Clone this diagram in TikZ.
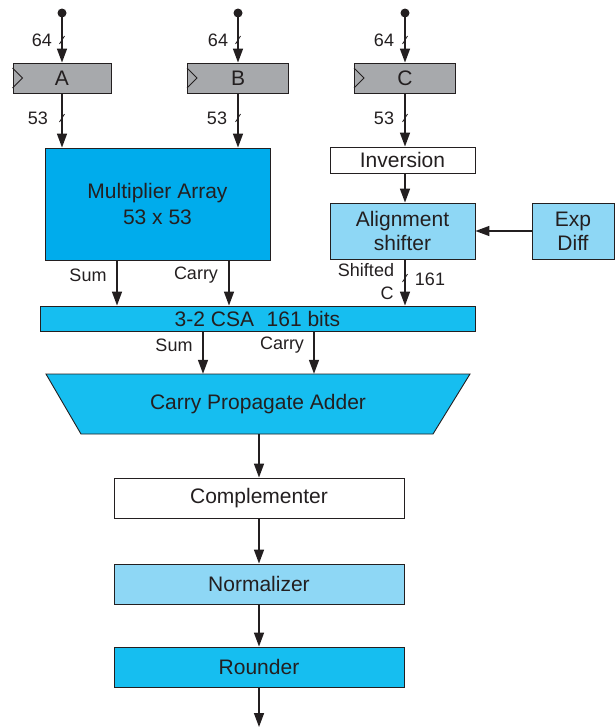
\documentclass[tikz,border=0pt]{standalone}
\usepackage{fontspec}
\setmainfont{Liberation Sans}
\usetikzlibrary{arrows.meta,positioning}
\definecolor{regGray}{RGB}{167,169,172}
\definecolor{multBlue}{RGB}{0,172,236}
\definecolor{csaBlue}{RGB}{22,190,240}
\definecolor{lightBlue}{RGB}{142,215,245}
\definecolor{inkC}{RGB}{35,31,32}
\begin{document}
\begin{tikzpicture}[x=1pt,y=-1pt,
    box/.style={draw=inkC, line width=0.9pt, inner sep=0pt, text=inkC, font=\fontsize{21}{24}\selectfont},
    arr/.style={draw=inkC, line width=1.5pt, -{Triangle[length=14pt,width=10pt]}},
    lbl/.style={inner sep=0pt, text=inkC, font=\fontsize{18}{20}\selectfont},
    tick/.style={draw=inkC, line width=0.8pt}]
    \useasboundingbox (0,0) rectangle (615,728);

    %registers A, B, C
    \node[box, fill=regGray, minimum width=98pt, minimum height=30pt] (regA) at (62,78) {A};
    \node[box, fill=regGray, minimum width=101pt, minimum height=30pt] (regB) at (238,78) {B};
    \node[box, fill=regGray, minimum width=101pt, minimum height=30pt] (regC) at (405,78) {C};
    \draw[inkC, line width=0.9pt] ([yshift=10pt]regA.west) -- ++(10,10) -- ++(-10,10);
    \draw[inkC, line width=0.9pt] ([yshift=10pt]regB.west) -- ++(10,10) -- ++(-10,10);
    \draw[inkC, line width=0.9pt] ([yshift=10pt]regC.west) -- ++(10,10) -- ++(-10,10);

    %inputs, 64 bits
    \coordinate (inA) at (62,13);
    \coordinate (inB) at (238,13);
    \coordinate (inC) at (405,13);
    \fill[inkC] (inA) circle (4.5pt);
    \fill[inkC] (inB) circle (4.5pt);
    \fill[inkC] (inC) circle (4.5pt);

    %datapath boxes
    \node[box, fill=multBlue, minimum width=225pt, minimum height=112pt, align=center] (mult) at (157.5,204) {Multiplier Array\\[2pt]53 x 53};
    \node[box, fill=white, minimum width=145pt, minimum height=26pt] (inv) at (402.5,160) {Inversion};
    \node[box, fill=lightBlue, minimum width=145pt, minimum height=56pt, align=center] (align) at (402.5,231) {Alignment\\shifter};
    \node[box, fill=lightBlue, minimum width=82pt, minimum height=56pt, align=center] (exp) at (573,231) {Exp\\Diff};
    \node[box, fill=csaBlue, minimum width=435pt, minimum height=25pt] (csa) at (257.5,318.5) {3-2 CSA\hspace{0.6em}161 bits};

    %carry propagate adder
    \filldraw[fill=csaBlue, draw=inkC, line width=0.9pt] (46,374) -- (470,374) -- (433,434) -- (81,434) -- cycle;
    \node[inner sep=0pt, minimum width=352pt, minimum height=60pt, text=inkC, font=\fontsize{21}{24}\selectfont] (cpa) at (258,404) {Carry Propagate Adder};

    \node[box, fill=white, minimum width=290pt, minimum height=40pt] (comp) at (259,498) {Complementer};
    \node[box, fill=lightBlue, minimum width=290pt, minimum height=40pt] (norm) at (259,584) {Normalizer};
    \node[box, fill=csaBlue, minimum width=290pt, minimum height=40pt] (round) at (259,667) {Rounder};
    \coordinate (out) at (259,727);

    %labels
    \node[lbl] (wA1) at (42,40) {64};
    \node[lbl] (wB1) at (218,40) {64};
    \node[lbl] (wC1) at (384,40) {64};
    \node[lbl] (wA2) at (38,118) {53};
    \node[lbl] (wB2) at (217,118) {53};
    \node[lbl] (wC2) at (384,118) {53};
    \node[lbl] (sum1) at (88,275) {Sum};
    \node[lbl] (carry1) at (196,275) {Carry};
    \node[lbl] (shf) at (366,270) {Shifted};
    \node[lbl] (shc) at (387,293) {C};
    \node[lbl] (w161) at (430,279) {161};
    \node[lbl] (sum2) at (174,345) {Sum};
    \node[lbl] (carry2) at (282,345) {Carry};

    %connectors
    \draw[arr] (inA) -- (regA.north);
    \draw[arr] (inB) -- (regB.north);
    \draw[arr] (inC) -- (regC.north);
    \draw[arr] (regA.south) -- (regA.south |- mult.north);
    \draw[arr] (regB.south) -- (regB.south |- mult.north);
    \draw[arr] (regC.south) -- (regC.south |- inv.north);
    \draw[arr] (regC.south |- inv.south) -- (regC.south |- align.north);
    \draw[arr] (exp.west) -- (align.east);
    \draw[arr] (regC.south |- align.south) -- (regC.south |- csa.north);
    \draw[arr] ([xshift=-40.5pt]mult.south) coordinate (ms) -- (ms |- csa.north);
    \draw[arr] ([xshift=71.5pt]mult.south) coordinate (mc) -- (mc |- csa.north);
    \draw[arr] ([xshift=-54.5pt]csa.south) coordinate (cs) -- (cs |- cpa.north);
    \draw[arr] ([xshift=56.5pt]csa.south) coordinate (cc) -- (cc |- cpa.north);
    \draw[arr] (cpa.south -| comp.north) -- (comp.north);
    \draw[arr] (comp.south) -- (norm.north);
    \draw[arr] (norm.south) -- (round.north);
    \draw[arr] (round.south) -- (out);

    %bus width ticks
    \draw[tick] (59.5,44) -- (64.5,36);
    \draw[tick] (235.5,44) -- (240.5,36);
    \draw[tick] (402.5,44) -- (407.5,36);
    \draw[tick] (59.5,122) -- (64.5,114);
    \draw[tick] (235.5,122) -- (240.5,114);
    \draw[tick] (402.5,122) -- (407.5,114);
    \draw[tick] (402.5,282) -- (407.5,274);
\end{tikzpicture}
\end{document}
